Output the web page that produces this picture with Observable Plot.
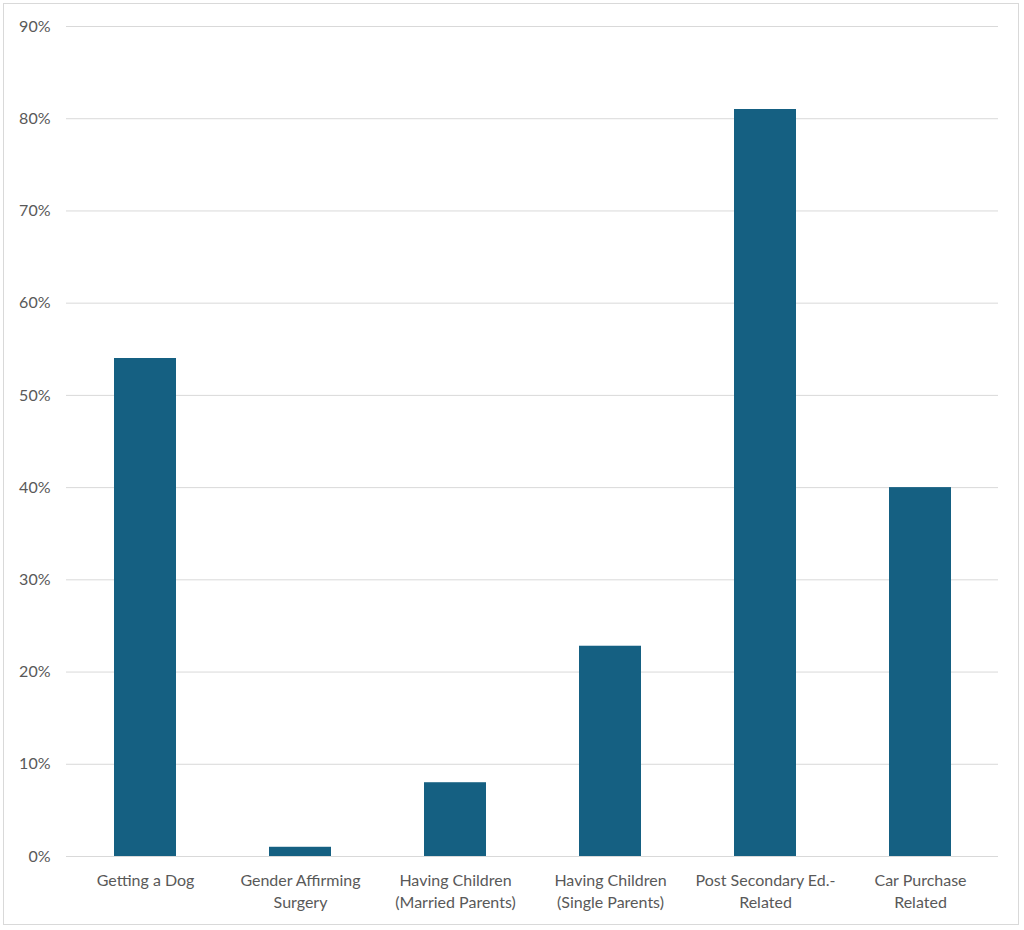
<!DOCTYPE html>
<html>
<head>
<meta charset="utf-8">
<script src="https://cdn.jsdelivr.net/npm/d3@7"></script>
<script src="https://cdn.jsdelivr.net/npm/@observablehq/plot@0.6"></script>
<style>
body { margin: 0; background: #fff; }
#wrap { position: relative; width: 1024px; height: 930px; }
#border { position: absolute; left: 3px; top: 3px; width: 1016px; height: 922px; border: 1px solid #d9d9d9; box-sizing: border-box; }
#chart { position: absolute; left: 0; top: 0; }
</style>
</head>
<body>
<div id="wrap"><div id="border"></div><div id="chart"></div></div>
<script>
const categories = [
  "Getting a Dog\n",
  "Gender Affirming\nSurgery",
  "Having Children\n(Married Parents)",
  "Having Children\n(Single Parents)",
  "Post Secondary Ed.-\nRelated",
  "Car Purchase\nRelated"
];
const values = [0.54, 0.01, 0.08, 0.228, 0.81, 0.40];
const yTicks = [0, 0.1, 0.2, 0.3, 0.4, 0.5, 0.6, 0.7, 0.8, 0.9];

const data = categories.map((c, i) => ({category: c, value: values[i]}));

const chart = Plot.plot({
  width: 1024,
  height: 930,
  marginLeft: 66,
  marginRight: 26,
  marginTop: 26,
  marginBottom: 74,
  style: {fontFamily: "Lato, 'Open Sans', sans-serif", fontSize: "16px", color: "#595959", background: "transparent"},
  x: {domain: categories, paddingInner: 0.6, paddingOuter: 0.3, label: null},
  y: {domain: [0, 0.9], label: null},
  marks: [
    Plot.gridY(yTicks, {stroke: "#d9d9d9", strokeOpacity: 1, strokeWidth: 1}),
    Plot.barY(data, {x: "category", y: "value", fill: "#156082"}),
    Plot.axisY(yTicks, {tickSize: 0, tickPadding: 16, tickFormat: d => Math.round(d * 100) + "%", fill: "#595959", fontSize: 16, label: null}),
    Plot.axisX({tickSize: 0, tickPadding: 14, fill: "#595959", fontSize: 16, lineHeight: 1.38, label: null})
  ]
});
document.getElementById("chart").appendChild(chart);
</script>
</body>
</html>
